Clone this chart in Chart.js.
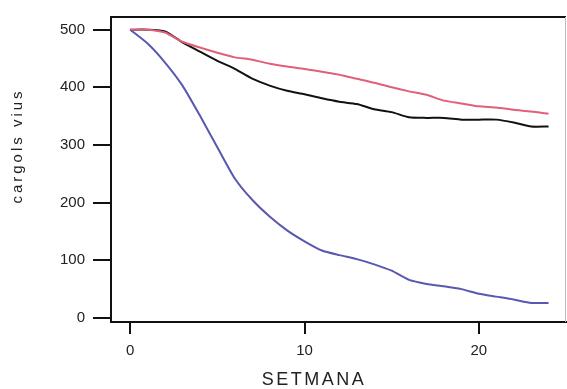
<!DOCTYPE html>
<html>
<head>
<meta charset="utf-8">
<title>cargols vius</title>
<script src="https://cdn.jsdelivr.net/npm/chart.js@4.4.1/dist/chart.umd.min.js"></script>
<style>
  html, body { margin: 0; padding: 0; background: #fff; }
  #chart { display: block; }
</style>
</head>
<body>
<canvas id="chart" width="567" height="389"></canvas>
<script>
// weeks on the x axis
const setmanes = [0, 1, 2, 3, 4, 5, 6, 7, 8, 9, 10, 11, 12, 13, 14, 15, 16, 17, 18, 19, 20, 21, 22, 23, 24];

// snails alive per week
const rosa  = [500, 500, 495, 479, 469, 460, 452, 448, 441, 436, 432, 427, 422, 415, 408, 400, 393, 387, 377, 372, 367, 365, 361, 358, 354];
const negre = [500, 500, 497, 478, 462, 446, 432, 415, 403, 394, 388, 381, 375, 371, 362, 357, 348, 347, 347, 344, 344, 344, 339, 332, 332];
const blau  = [500, 476, 443, 403, 351, 296, 242, 205, 176, 152, 133, 117, 109, 102, 93, 82, 66, 59, 55, 50, 42, 37, 32, 26, 26];

const yTicks = [0, 100, 200, 300, 400, 500];
const xTicks = [0, 10, 20];

const FONT = "'Liberation Sans', Arial, sans-serif";

const toPoints = (vals) => setmanes.map((s, i) => ({ x: s, y: vals[i] }));

// box around the plot + the two axis titles
const frame = {
  id: 'frame',
  afterDraw(chart) {
    const { ctx, chartArea: a } = chart;
    ctx.save();
    ctx.strokeStyle = '#111';
    ctx.lineWidth = 2;
    ctx.beginPath();
    ctx.moveTo(a.left, a.top);
    ctx.lineTo(a.right, a.top);
    ctx.stroke();
    ctx.lineWidth = 1;
    ctx.strokeStyle = '#bbb';
    ctx.beginPath();
    ctx.moveTo(a.right - 0.5, a.top);
    ctx.lineTo(a.right - 0.5, a.bottom);
    ctx.stroke();

    ctx.fillStyle = '#222';
    ctx.textAlign = 'center';
    ctx.textBaseline = 'middle';

    ctx.font = '18px ' + FONT;
    ctx.letterSpacing = '2.5px';
    ctx.fillText('SETMANA', 314, 380);

    ctx.translate(18, 146);
    ctx.rotate(-Math.PI / 2);
    ctx.font = '15px ' + FONT;
    ctx.letterSpacing = '3px';
    ctx.fillText('cargols vius', 0, 0);
    ctx.restore();
  }
};

const myChart = new Chart(document.getElementById('chart'), {
  type: 'line',
  plugins: [frame],
  data: {
    datasets: [
      { data: toPoints(rosa),  borderColor: '#e06078', borderWidth: 2 },
      { data: toPoints(negre), borderColor: '#111111', borderWidth: 2 },
      { data: toPoints(blau),  borderColor: '#5858b0', borderWidth: 2 },
    ],
  },
  options: {
    responsive: false,
    animation: false,
    layout: { padding: { top: 16, right: 1, left: 0, bottom: 0 } },
    elements: {
      point: { radius: 0 },
      line: { tension: 0.2 },
    },
    plugins: {
      legend: { display: false },
      tooltip: { enabled: false },
    },
    scales: {
      x: {
        type: 'linear',
        min: -1.1,
        max: 25,
        afterBuildTicks: (s) => { s.ticks = xTicks.map(v => ({ value: v })); },
        afterFit: (s) => { s.height = 67; },
        border: { display: true, color: '#111', width: 2 },
        grid: { drawOnChartArea: false, drawTicks: true, tickLength: 12, color: '#111', lineWidth: 2 },
        ticks: { color: '#222', font: { family: FONT, size: 15 }, padding: 8, maxRotation: 0 },
      },
      y: {
        type: 'linear',
        min: -7,
        max: 522,
        afterBuildTicks: (s) => { s.ticks = yTicks.map(v => ({ value: v })); },
        afterFit: (s) => { s.width = 111; },
        border: { display: true, color: '#111', width: 2 },
        grid: { drawOnChartArea: false, drawTicks: true, tickLength: 18, color: '#111', lineWidth: 2 },
        ticks: { color: '#222', font: { family: FONT, size: 15 }, padding: 8 },
      },
    },
  },
});
</script>
</body>
</html>
